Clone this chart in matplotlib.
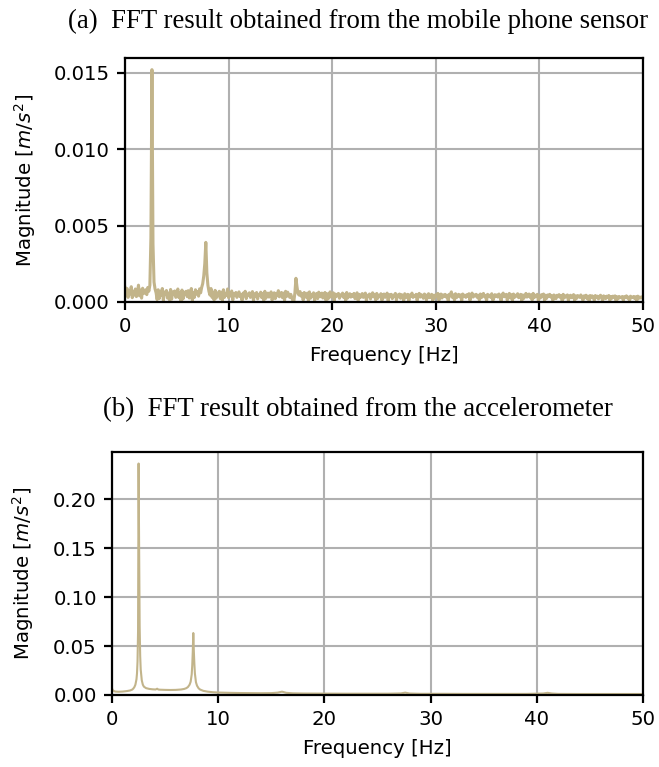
import numpy as np
import matplotlib
matplotlib.use("Agg")
import matplotlib.pyplot as plt

# (a) mobile phone sensor, magnitude in 1e-5 m/s^2, bins every 0.1 Hz from 0 to 50 Hz
phone_0_10 = [95, 40, 88, 30, 75, 52, 100, 28, 70, 45,
              85, 35, 62, 110, 40, 78, 25, 90, 55, 68,
              80, 48, 95, 70, 110, 420, 1520, 380, 130, 85,
              60, 15, 80, 22, 70, 45, 88, 10, 65, 50,
              75, 25, 58, 12, 82, 18, 66, 48, 72, 30,
              55, 85, 28, 60, 8, 78, 20, 64, 50, 70,
              35, 74, 26, 58, 88, 10, 62, 30, 80, 52,
              68, 38, 86, 60, 95, 120, 170, 250, 390, 190,
              110, 70, 45, 88, 30, 62, 12, 76, 25, 58,
              40, 70, 22, 64, 10, 80, 30, 55, 42, 85]
phone_10_20 = [28, 60, 40, 72, 12, 55, 45, 62, 30, 50,
               66, 35, 48, 10, 58, 40, 70, 22, 52, 44,
               60, 30, 46, 68, 8, 54, 38, 62, 20, 50,
               42, 64, 28, 56, 10, 70, 24, 48, 58, 32,
               52, 66, 12, 44, 60, 22, 56, 40, 74, 34,
               50, 62, 28, 58, 10, 70, 36, 64, 48, 30,
               50, 30, 8, 5, 60, 155, 100, 55, 45, 68,
               38, 55, 12, 62, 44, 30, 58, 10, 66, 24,
               50, 36, 60, 8, 48, 56, 22, 64, 42, 34,
               58, 26, 46, 62, 10, 54, 20, 50, 66, 32]
phone_20_30 = [44, 60, 10, 52, 36, 48, 56, 24, 46, 40,
               58, 30, 50, 8, 62, 26, 44, 54, 32, 48,
               36, 56, 22, 46, 60, 10, 50, 28, 42, 55,
               30, 48, 58, 8, 44, 38, 52, 20, 46, 60,
               34, 50, 12, 56, 24, 44, 36, 54, 10, 46,
               52, 30, 42, 58, 8, 48, 38, 50, 22, 44,
               40, 56, 12, 46, 34, 52, 24, 48, 42, 10,
               54, 28, 44, 50, 8, 46, 38, 58, 30, 42,
               36, 50, 10, 44, 56, 32, 48, 40, 24, 52,
               46, 12, 42, 54, 28, 38, 50, 8, 44, 26]
phone_30_40 = [48, 38, 56, 10, 44, 52, 26, 46, 36, 50,
               32, 44, 8, 50, 40, 66, 30, 46, 12, 54,
               28, 42, 50, 34, 46, 8, 52, 38, 44, 30,
               48, 36, 54, 10, 42, 58, 32, 46, 40, 50,
               30, 44, 12, 52, 28, 46, 56, 34, 42, 8,
               50, 38, 44, 30, 54, 10, 26, 48, 36, 46,
               32, 52, 42, 8, 46, 58, 34, 44, 50, 12,
               40, 56, 26, 48, 10, 52, 30, 44, 38, 54,
               28, 42, 50, 8, 46, 24, 40, 56, 32, 44,
               52, 30, 46, 12, 56, 28, 44, 36, 50, 10]
phone_40_50 = [42, 26, 48, 38, 52, 8, 44, 24, 46, 36,
               50, 32, 40, 10, 46, 38, 22, 44, 34, 48,
               30, 42, 8, 50, 26, 40, 34, 46, 10, 38,
               44, 28, 36, 48, 8, 40, 24, 42, 36, 30,
               46, 34, 10, 40, 30, 44, 22, 38, 8, 42,
               28, 40, 34, 10, 42, 30, 38, 20, 36, 44,
               32, 8, 40, 34, 22, 38, 30, 42, 10, 36,
               24, 38, 32, 40, 8, 34, 20, 36, 30, 28,
               36, 10, 34, 30, 40, 26, 32, 8, 38, 28,
               30, 36, 22, 34, 8, 38, 24, 32, 26, 34,
               30]

# (b) accelerometer
accel_freq = [0, 0.1, 0.3, 0.6, 1.0, 1.4, 1.7, 1.9, 2.0, 2.1, 2.2, 2.3, 2.35, 2.4,
              2.45, 2.5, 2.55, 2.6, 2.65, 2.7, 2.8, 2.9, 3.0, 3.2, 3.5, 3.8, 4.1,
              4.25, 4.35, 4.5, 5.0, 5.5, 6.0, 6.5, 6.8, 7.0, 7.15, 7.3, 7.4, 7.5,
              7.55, 7.6, 7.65, 7.7, 7.75, 7.8, 7.9, 8.0, 8.15, 8.3, 8.6, 9.0, 9.5,
              10, 11, 12, 13, 14, 15, 15.6, 16.0, 16.4, 17, 18, 20, 22, 24, 26,
              27.2, 27.6, 28, 29, 31, 33, 35, 37, 39, 40.6, 41.0, 41.4, 42, 44,
              46, 48, 50]
accel_mag = [0.0065, 0.0045, 0.0035, 0.0033, 0.0035, 0.0040, 0.0046, 0.0055, 0.0065,
             0.0080, 0.0105, 0.0160, 0.022, 0.034, 0.065, 0.2365, 0.150, 0.070,
             0.040, 0.026, 0.015, 0.0105, 0.0085, 0.0070, 0.0062, 0.0058, 0.0056,
             0.0064, 0.0056, 0.0054, 0.0052, 0.0051, 0.0052, 0.0056, 0.0062, 0.0070,
             0.0082, 0.0105, 0.0135, 0.021, 0.030, 0.044, 0.0633, 0.045, 0.032,
             0.022, 0.013, 0.0095, 0.0068, 0.0055, 0.0042, 0.0034, 0.0028, 0.0025,
             0.0022, 0.0020, 0.0019, 0.0018, 0.0019, 0.0024, 0.0034, 0.0022, 0.0017,
             0.0015, 0.0014, 0.0013, 0.0013, 0.0013, 0.0016, 0.0024, 0.0015, 0.0012,
             0.0012, 0.0011, 0.0011, 0.0011, 0.0011, 0.0015, 0.0022, 0.0015, 0.0011,
             0.0010, 0.0010, 0.0010, 0.0010]

phone_mag = np.array(phone_0_10 + phone_10_20 + phone_20_30 + phone_30_40 + phone_40_50) * 1e-5
phone_freq = np.linspace(0, 50, len(phone_mag))

line_color = '#c2b48a'
ylab = 'Magnitude [$m/s^2$]'

plt.rcParams['font.size'] = 14.2
plt.rcParams['axes.linewidth'] = 1.6

fig = plt.figure(figsize=(6.59, 7.67), dpi=100)

ax1 = fig.add_axes([0.1897, 0.6063, 0.786, 0.318])
ax1.plot(phone_freq, phone_mag, color=line_color, lw=2.2)
ax1.set_xlim(0, 50)
ax1.set_ylim(0, None)
ax1.set_yticks([0, 0.005, 0.010, 0.015])
ax1.set_yticklabels(['0.000', '0.005', '0.010', '0.015'])
ax1.grid(True, color='#b0b0b0', lw=1.5)
ax1.set_xlabel('Frequency [Hz]', labelpad=7)
ax1.set_ylabel(ylab, labelpad=11)

ax2 = fig.add_axes([0.170, 0.0939, 0.806, 0.3168])
ax2.plot(accel_freq, accel_mag, color=line_color, lw=1.5)
ax2.set_xlim(0, 50)
ax2.set_ylim(0, None)
ax2.set_yticks([0, 0.05, 0.10, 0.15, 0.20])
ax2.grid(True, color='#b0b0b0', lw=1.5)
ax2.set_xlabel('Frequency [Hz]', labelpad=7)
ax2.set_ylabel(ylab, labelpad=12)

for ax in (ax1, ax2):
    ax.tick_params(width=1.6, length=6, pad=5)

# captions sit like sub-figure captions, centred over the panel images
fig.text(358 / 659, 1 - 21 / 767, '(a)  FFT result obtained from the mobile phone sensor',
         family='Liberation Serif', fontsize=19.3, ha='center', va='center')
fig.text(358 / 659, 1 - 410 / 767, '(b)  FFT result obtained from the accelerometer',
         family='Liberation Serif', fontsize=19.3, ha='center', va='center')

fig.savefig('out.png', dpi=100)
